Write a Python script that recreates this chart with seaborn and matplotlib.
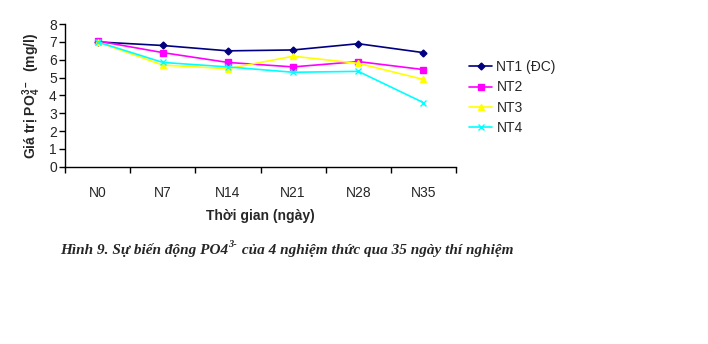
import pandas as pd
import matplotlib
matplotlib.use("Agg")
import matplotlib.pyplot as plt
import seaborn as sns

# ========== DATA ==========
days = ["N0", "N7", "N14", "N21", "N28", "N35"]
nt1 = [7.0, 6.8, 6.5, 6.55, 6.9, 6.4]
nt2 = [7.05, 6.4, 5.85, 5.6, 5.9, 5.45]
nt3 = [7.0, 5.7, 5.5, 6.2, 5.8, 4.9]
nt4 = [7.0, 5.85, 5.6, 5.3, 5.35, 3.6]
series_names = ["NT1 (ĐC)", "NT2", "NT3", "NT4"]
colors = ["#000080", "#FF00FF", "#FFFF00", "#00FFFF"]
markers = ["D", "s", "^", "x"]
msizes = [3.5, 4.5, 4.5, 4]

# ========== STYLE ==========
sns.set_style("white")
plt.rcParams["font.family"] = ["Liberation Sans", "DejaVu Sans"]
plt.rcParams["mathtext.fontset"] = "custom"
plt.rcParams["mathtext.rm"] = "Liberation Sans"
plt.rcParams["mathtext.bf"] = "Liberation Sans:bold"

fig = plt.figure(figsize=(7.08, 3.44), dpi=100)
ax = fig.add_axes([0.092, 0.515, 0.552, 0.415])

# one call per series: seaborn won't mix filled and line-art markers
for name, vals, col, mk, ms in zip(series_names, [nt1, nt2, nt3, nt4], colors, markers, msizes):
    d = pd.DataFrame({"day": days, "value": vals})
    sns.lineplot(data=d, x="day", y="value", color=col, marker=mk,
                 markersize=ms, linewidth=1.2, markeredgecolor=col,
                 markeredgewidth=1, label=name, ax=ax)

ax.set_xlim(-0.5, 5.5)
ax.set_ylim(0, 8)
ax.set_yticks(range(0, 9))
ax.set_xticks([i - 0.5 for i in range(7)])
ax.set_xticklabels([])
ax.set_xticks(range(6), minor=True)
ax.set_xticklabels(days, minor=True)
ax.tick_params(axis="x", which="major", bottom=True, direction="out", length=4, width=1, color="black")
ax.tick_params(axis="x", which="minor", bottom=True, length=0, pad=14, labelsize=10)
ax.tick_params(axis="y", left=True, direction="out", length=4, width=1, color="black", labelsize=10, pad=2)

for s in ["top", "right"]:
    ax.spines[s].set_visible(False)
for s in ["left", "bottom"]:
    ax.spines[s].set_color("black")
    ax.spines[s].set_linewidth(1)

ax.set_xlabel("Thời gian (ngày)", fontsize=10, fontweight="bold", labelpad=6)
ax.set_ylabel(r"Giá trị PO$\mathbf{_4^{3-}}$  (mg/l)", fontsize=10, fontweight="bold", labelpad=4)

handles, labels = ax.get_legend_handles_labels()
ax.legend(handles, labels, loc="upper left", bbox_to_anchor=(0.662, 0.825),
          bbox_transform=fig.transFigure, frameon=False, fontsize=10,
          handlelength=1.7, labelspacing=0.45, handletextpad=0.3,
          borderpad=0, borderaxespad=0)

# caption in pieces so the superscript stays in the same serif font
cap_font = dict(family=["Liberation Serif", "DejaVu Serif"], weight="bold",
                style="italic", fontsize=11)
t1 = fig.text(0.085, 0.262, "Hình 9. Sự biến động PO4", va="baseline", **cap_font)
ax.annotate("3-", xy=(1, 0.55), xycoords=t1, va="bottom", ha="left",
            family=["Liberation Serif", "DejaVu Serif"], weight="bold",
            style="italic", fontsize=7.5, annotation_clip=False)
ax.annotate(" của 4 nghiệm thức qua 35 ngày thí nghiệm", xy=(1, 0),
            xycoords=t1, xytext=(7, 0), textcoords="offset points",
            va="bottom", ha="left", annotation_clip=False, **cap_font)

fig.savefig("out.png", dpi=100)
plt.close(fig)
